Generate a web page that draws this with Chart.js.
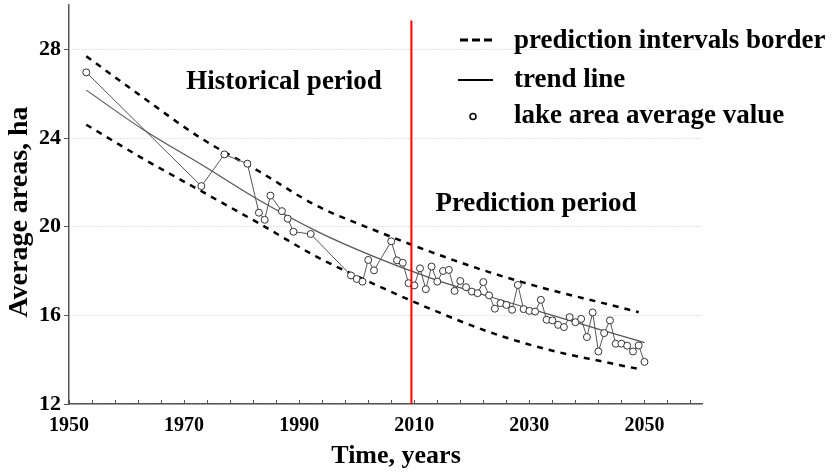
<!DOCTYPE html>
<html>
<head>
<meta charset="utf-8">
<script src="https://cdn.jsdelivr.net/npm/chart.js@4.4.1/dist/chart.umd.min.js"></script>
<style>
  html, body { margin: 0; padding: 0; background: #fff; }
  #wrap { width: 839px; height: 473px; }
</style>
</head>
<body>
<div id="wrap"><canvas id="chart" width="839" height="473"></canvas></div>
<script>
// observed lake area (ha)
const obsYears = [1953, 1973, 1977, 1981, 1983, 1984, 1985, 1987, 1988, 1989, 1992,
  1999, 2000, 2001, 2002, 2003, 2006, 2007, 2008, 2009, 2010, 2011, 2012, 2013, 2014,
  2015, 2016, 2017, 2018, 2019, 2020, 2021, 2022, 2023, 2024, 2025, 2026, 2027, 2028,
  2029, 2030, 2031, 2032, 2033, 2034, 2035, 2036, 2037, 2038, 2039, 2040, 2041, 2042,
  2043, 2044, 2045, 2046, 2047, 2048, 2049, 2050];
const obsValues = [26.96, 21.83, 23.26, 22.84, 20.63, 20.31, 21.4, 20.7, 20.36, 19.77, 19.67,
  17.8, 17.64, 17.52, 18.5, 18.03, 19.34, 18.48, 18.37, 17.45, 17.35, 18.12, 17.18, 18.2, 17.52,
  18.0, 18.05, 17.1, 17.55, 17.27, 17.07, 17.0, 17.5, 16.9, 16.3, 16.55, 16.47, 16.25, 17.37,
  16.28, 16.2, 16.17, 16.7, 15.8, 15.77, 15.57, 15.47, 15.92, 15.69, 15.84, 15.02, 16.13, 14.37,
  15.2, 15.77, 14.72, 14.72, 14.63, 14.37, 14.64, 13.9];

// trend line
const trendYears = [1953, 1963, 1973, 1983, 1993, 2003, 2013, 2023, 2033, 2043, 2050];
const trendValues = [26.16, 24.36, 22.8, 21.2, 19.8, 18.65, 17.67, 16.85, 16.08, 15.3, 14.77];

// prediction interval borders
const bandYears = [1953, 1963, 1973, 1983, 1993, 2003, 2013, 2023, 2033, 2043, 2049];
const upperValues = [27.69, 25.8, 23.98, 22.5, 20.95, 19.85, 18.85, 17.95, 17.19, 16.54, 16.14];
const lowerValues = [24.6, 23.05, 21.6, 20.15, 18.65, 17.41, 16.27, 15.25, 14.47, 13.9, 13.58];

// boundary between historical and prediction periods
const splitYear = 2009.5;
const splitRange = [12, 29.3];

const yTicks = [12, 16, 20, 24, 28];
const xTicks = [1950, 1954, 1958, 1962, 1966, 1970, 1974, 1978, 1982, 1986, 1990, 1994,
  1998, 2002, 2006, 2010, 2014, 2018, 2022, 2026, 2030, 2034, 2038, 2042, 2046, 2050,
  2054, 2058];
const xLabelYears = [1950, 1970, 1990, 2010, 2030, 2050];

const serif = '"Liberation Serif", "Times New Roman", serif';

function toPoints(xs, ys) {
  return xs.map((x, i) => ({ x: x, y: ys[i] }));
}

const annotations = {
  id: "annotations",
  afterDraw(chart) {
    const ctx = chart.ctx;
    const xs = chart.scales.x;
    const area = chart.chartArea;
    ctx.save();

    // small inward ticks on the time axis
    ctx.strokeStyle = "#555";
    ctx.lineWidth = 1;
    xs.ticks.forEach((t) => {
      const px = Math.round(xs.getPixelForValue(t.value)) + 0.5;
      ctx.beginPath();
      ctx.moveTo(px, area.bottom);
      ctx.lineTo(px, area.bottom - 4);
      ctx.stroke();
    });

    ctx.fillStyle = "#000";
    ctx.font = "bold 27px " + serif;
    ctx.textBaseline = "alphabetic";
    ctx.textAlign = "center";
    ctx.fillText("Historical period", 284, 89);
    ctx.fillText("Prediction period", 536, 211);

    ctx.font = "bold 26px " + serif;
    ctx.fillText("Time, years", 396, 463);

    ctx.save();
    ctx.font = "bold 28px " + serif;
    ctx.translate(27, 212);
    ctx.rotate(-Math.PI / 2);
    ctx.fillText("Average areas, ha", 0, 0);
    ctx.restore();

    // legend
    ctx.textAlign = "left";
    ctx.font = "bold 27px " + serif;
    ctx.fillText("prediction intervals border", 514, 48);
    ctx.fillText("trend line", 514, 87);
    ctx.fillText("lake area average value", 514, 123);

    ctx.strokeStyle = "#000";
    ctx.lineWidth = 3;
    ctx.setLineDash([8, 4]);
    ctx.beginPath();
    ctx.moveTo(460, 40);
    ctx.lineTo(492, 40);
    ctx.stroke();
    ctx.setLineDash([]);
    ctx.lineWidth = 2;
    ctx.beginPath();
    ctx.moveTo(458, 80);
    ctx.lineTo(493, 80);
    ctx.stroke();
    ctx.lineWidth = 1.5;
    ctx.beginPath();
    ctx.arc(473, 116.5, 3, 0, Math.PI * 2);
    ctx.fillStyle = "#fff";
    ctx.fill();
    ctx.stroke();

    ctx.restore();
  },
};

new Chart(document.getElementById("chart"), {
  type: "line",
  data: {
    datasets: [
      {
        label: "split",
        data: toPoints([splitYear, splitYear], splitRange),
        borderColor: "#ff0000",
        borderWidth: 2,
        pointRadius: 0,
      },
      {
        label: "lake area average value",
        data: toPoints(obsYears, obsValues),
        borderColor: "#555",
        borderWidth: 1,
        pointRadius: 3.5,
        pointBackgroundColor: "#fff",
        pointBorderColor: "#333",
        pointBorderWidth: 1,
      },
      {
        label: "trend line",
        data: toPoints(trendYears, trendValues),
        borderColor: "#555",
        borderWidth: 1.2,
        pointRadius: 0,
        cubicInterpolationMode: "monotone",
      },
      {
        label: "upper border",
        data: toPoints(bandYears, upperValues),
        borderColor: "#000",
        borderWidth: 2.5,
        borderDash: [6, 6],
        pointRadius: 0,
        cubicInterpolationMode: "monotone",
      },
      {
        label: "lower border",
        data: toPoints(bandYears, lowerValues),
        borderColor: "#000",
        borderWidth: 2.5,
        borderDash: [6, 6],
        pointRadius: 0,
        cubicInterpolationMode: "monotone",
      },
    ],
  },
  options: {
    responsive: false,
    animation: false,
    events: [],
    layout: { padding: { top: 5, right: 137, left: 0, bottom: 0 } },
    plugins: { legend: { display: false }, tooltip: { enabled: false } },
    scales: {
      x: {
        type: "linear",
        min: 1950,
        max: 2060,
        afterBuildTicks: (s) => { s.ticks = xTicks.map((v) => ({ value: v })); },
        afterFit: (s) => {
          s.height = 69;
          s.paddingLeft = 0;
          s.paddingRight = 0;
        },
        ticks: {
          autoSkip: false,
          maxRotation: 0,
          padding: 10,
          color: "#000",
          font: { family: serif, size: 20, weight: "bold" },
          callback: (v) => (xLabelYears.includes(v) ? String(v) : ""),
        },
        grid: { display: true, drawOnChartArea: false, drawTicks: false },
        border: { color: "#555", width: 1.5 },
      },
      y: {
        type: "linear",
        min: 12,
        max: 30,
        afterBuildTicks: (s) => { s.ticks = yTicks.map((v) => ({ value: v })); },
        afterFit: (s) => {
          s.width = 69;
          s.paddingTop = 0;
          s.paddingBottom = 0;
        },
        ticks: {
          padding: 3,
          color: "#000",
          font: { family: serif, size: 22, weight: "bold" },
        },
        grid: { color: "#c8c8c8", lineWidth: 1, tickLength: 5, tickColor: "#555", tickWidth: 1 },
        border: { color: "#555", width: 1.5, dash: [1, 2] },
      },
    },
  },
  plugins: [annotations],
});
</script>
</body>
</html>
